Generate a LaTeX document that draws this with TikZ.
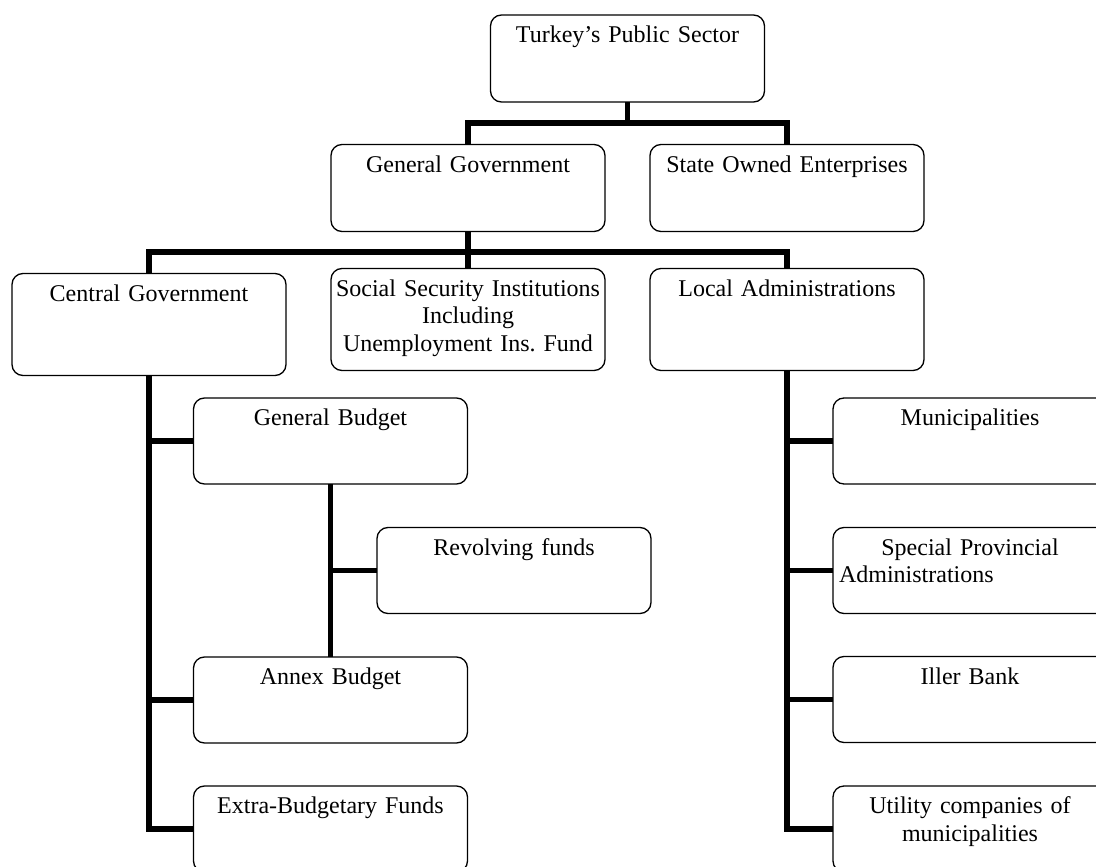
\documentclass[tikz,border=0pt]{standalone}
\usepackage{fontspec}
\setmainfont{Liberation Serif}
\usepackage{tikz}
\usetikzlibrary{calc}
\frenchspacing
\newcommand{\orgfont}{\fontsize{24}{27.5}\selectfont}
\newcommand{\orgbox}[4] {\node at (#1) (#2) [draw, line width=1.3pt, rounded corners=11pt, minimum width=274pt, minimum height=#3, inner sep=0pt, outer sep=0pt] {};
  \node at ($(#2.north)+(0,27.5)$) (#2-t) [anchor=base, text width=290pt, align=center, inner sep=0pt, font=\orgfont] {#4};}
\newcommand{\orgstub}[2] {\draw [line width=5.5pt] (#1|-#2.west) -- (#2.west);}

\begin{document}
\begin{tikzpicture}[x=1pt, y=-1pt]
\useasboundingbox (0,0) rectangle (1096,867);

\orgbox{627.5,58.5}{top}{87pt}{Turkey's Public Sector};
\orgbox{468,188}{gg}{87pt}{General Government};
\orgbox{787,188}{soe}{87pt}{State Owned Enterprises};

\orgbox{149,324.5}{cg}{102pt}{Central Government};
\orgbox{468,319.5}{ss}{102pt}{Social Security Institutions\\Including\\Unemployment Ins. Fund};
\orgbox{787,319.5}{la}{102pt}{Local Administrations};

\orgbox{330.5,441}{gb}{86pt}{General Budget};
\orgbox{514,570.5}{rev}{86pt}{Revolving funds};
\orgbox{330.5,700}{ab}{86pt}{Annex Budget};
\orgbox{330.5,829}{eb}{86pt}{Extra-Budgetary Funds};

\orgbox{970,441}{mun}{86pt}{Municipalities};
\orgbox{970,570.5}{spa}{86pt}{Special Provincial\\\makebox[262pt][l]{Administrations}};
\orgbox{970,699.5}{iller}{86pt}{Iller Bank};
\orgbox{970,829}{util}{86pt}{Utility companies of\\municipalities};

\coordinate (bus1) at (628,123);
\coordinate (bus2) at (468,252);

\draw [line width=5.5pt] (top.south) -- (top.south|-bus1);
\draw [line width=5.5pt] (gg.north) -- (gg.north|-bus1) -- (soe.north|-bus1) -- (soe.north);
\draw [line width=5.5pt] (gg.south) -- (ss.north);
\draw [line width=5.5pt] (cg.north) -- (cg.north|-bus2) -- (la.north|-bus2) -- (la.north);

\draw [line width=5.5pt] (cg.south) |- (eb.west);
\orgstub{cg.south}{gb};
\orgstub{cg.south}{ab};
\draw [line width=5.5pt] (gb.south) -- (ab.north);
\orgstub{gb.south}{rev};

\draw [line width=5.5pt] (la.south) |- (util.west);
\orgstub{la.south}{mun};
\orgstub{la.south}{spa};
\orgstub{la.south}{iller};

\end{tikzpicture}
\end{document}
